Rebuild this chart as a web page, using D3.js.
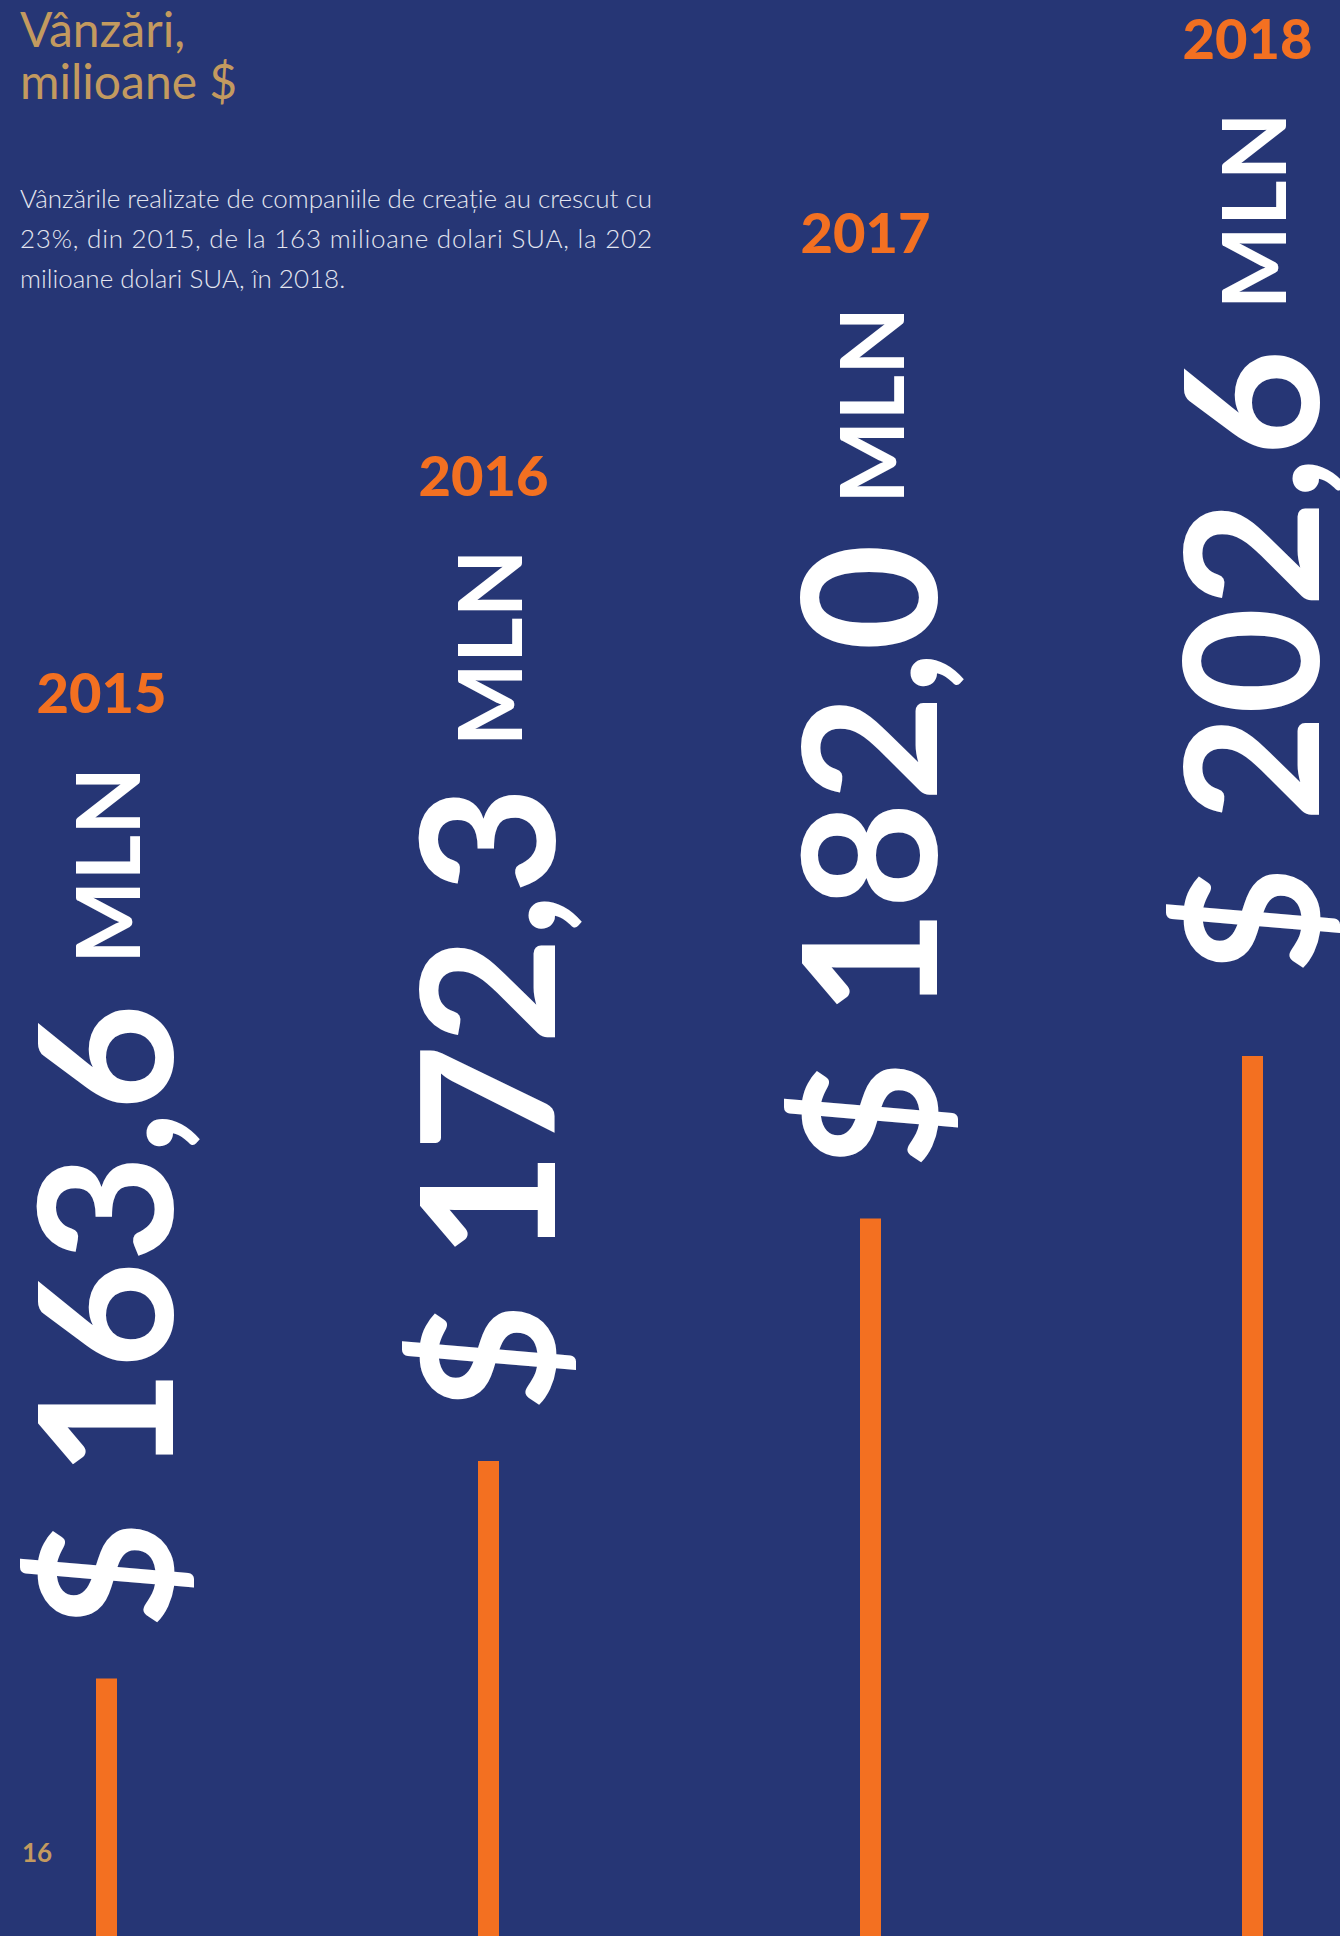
<!DOCTYPE html>
<html>
<head>
<meta charset="utf-8">
<script src="https://cdn.jsdelivr.net/npm/d3@7"></script>
<style>
  body { margin: 0; background: #263675; }
  svg { display: block; }
</style>
</head>
<body>
<div id="chart"></div>
<script>
const years = ['2015', '2016', '2017', '2018'];
const sales = [163.6, 172.3, 182.0, 202.6];
const unitLabel = 'MLN';
const titleLines = ['Vânzări,', 'milioane $'];
const descLines = [
  'Vânzările realizate de companiile de creație au crescut cu',
  '23%, din 2015, de la 163 milioane dolari SUA, la 202',
  'milioane dolari SUA, în 2018.',
];
const pageNumber = '16';

const width = 1340;
const height = 1936;
const colors = { bg: '#263675', orange: '#f37021', gold: '#c39a5f', text: '#e4e6f0' };
const fmt = (v) => `$ ${d3.format('.1f')(v).replace('.', ',')}`;

const svg = d3.select('#chart').append('svg').attr('width', width).attr('height', height);
svg.append('rect').attr('width', width).attr('height', height).attr('fill', colors.bg);

// title + intro
svg
  .selectAll('.title')
  .data(titleLines)
  .join('text')
  .attr('class', 'title')
  .attr('x', 20)
  .attr('y', (d, i) => 47 + i * 52)
  .attr('fill', colors.gold)
  .style('font', '400 48px Lato, sans-serif')
  .text((d) => d);

svg
  .selectAll('.desc')
  .data(descLines)
  .join('text')
  .attr('class', 'desc')
  .attr('x', 20)
  .attr('y', (d, i) => 208 + i * 40)
  .attr('fill', colors.text)
  .style('font', '300 26px Lato, sans-serif')
  .attr('textLength', (d, i) => (i < descLines.length - 1 ? 632 : null))
  .attr('lengthAdjust', 'spacing')
  .text((d) => d);

svg
  .append('text')
  .attr('x', 22)
  .attr('y', 1862)
  .attr('fill', colors.gold)
  .style('font', '700 26px Lato, sans-serif')
  .text(pageNumber);

const rows = years.map((year, i) => ({ year, value: sales[i] }));

const xScale = d3.scalePoint().domain(years).range([106.5, 1252.5]);
// last bar is cut at the top of the column area
const yScale = d3.scaleLinear().domain([153.3, 188.5]).range([height, 1056]).clamp(true);
const barWidth = 21;

svg
  .selectAll('.bar')
  .data(rows)
  .join('rect')
  .attr('class', 'bar')
  .attr('x', (d) => xScale(d.year) - barWidth / 2)
  .attr('y', (d) => yScale(d.value))
  .attr('width', barWidth)
  .attr('height', (d) => height - yScale(d.value))
  .attr('fill', colors.orange);

// rotated labels stacked on top of each bar
rows.forEach((d) => {
  const cx = xScale(d.year);
  const clipped = d.value > yScale.domain()[1];
  const top = yScale(d.value) - (clipped ? 82 : 50);

  const value = svg
    .append('text')
    .attr('transform', `translate(${cx + 66},${top}) rotate(-90)`)
    .attr('fill', '#fff')
    .style('font', '700 185px Lato, sans-serif')
    .text(fmt(d.value));
  const valueLen = value.node().getComputedTextLength();

  const unitStart = top - valueLen - 40;
  const unit = svg
    .append('text')
    .attr('transform', `translate(${cx + 33},${unitStart}) rotate(-90)`)
    .attr('fill', '#fff')
    .style('font', '700 88px Lato, sans-serif')
    .text(unitLabel);
  const unitLen = unit.node().getComputedTextLength();

  svg
    .append('text')
    .attr('x', cx - 5)
    .attr('y', unitStart - unitLen - 54)
    .attr('text-anchor', 'middle')
    .attr('fill', colors.orange)
    .style('font', '900 56px Lato, sans-serif')
    .text(d.year);
});
</script>
</body>
</html>
